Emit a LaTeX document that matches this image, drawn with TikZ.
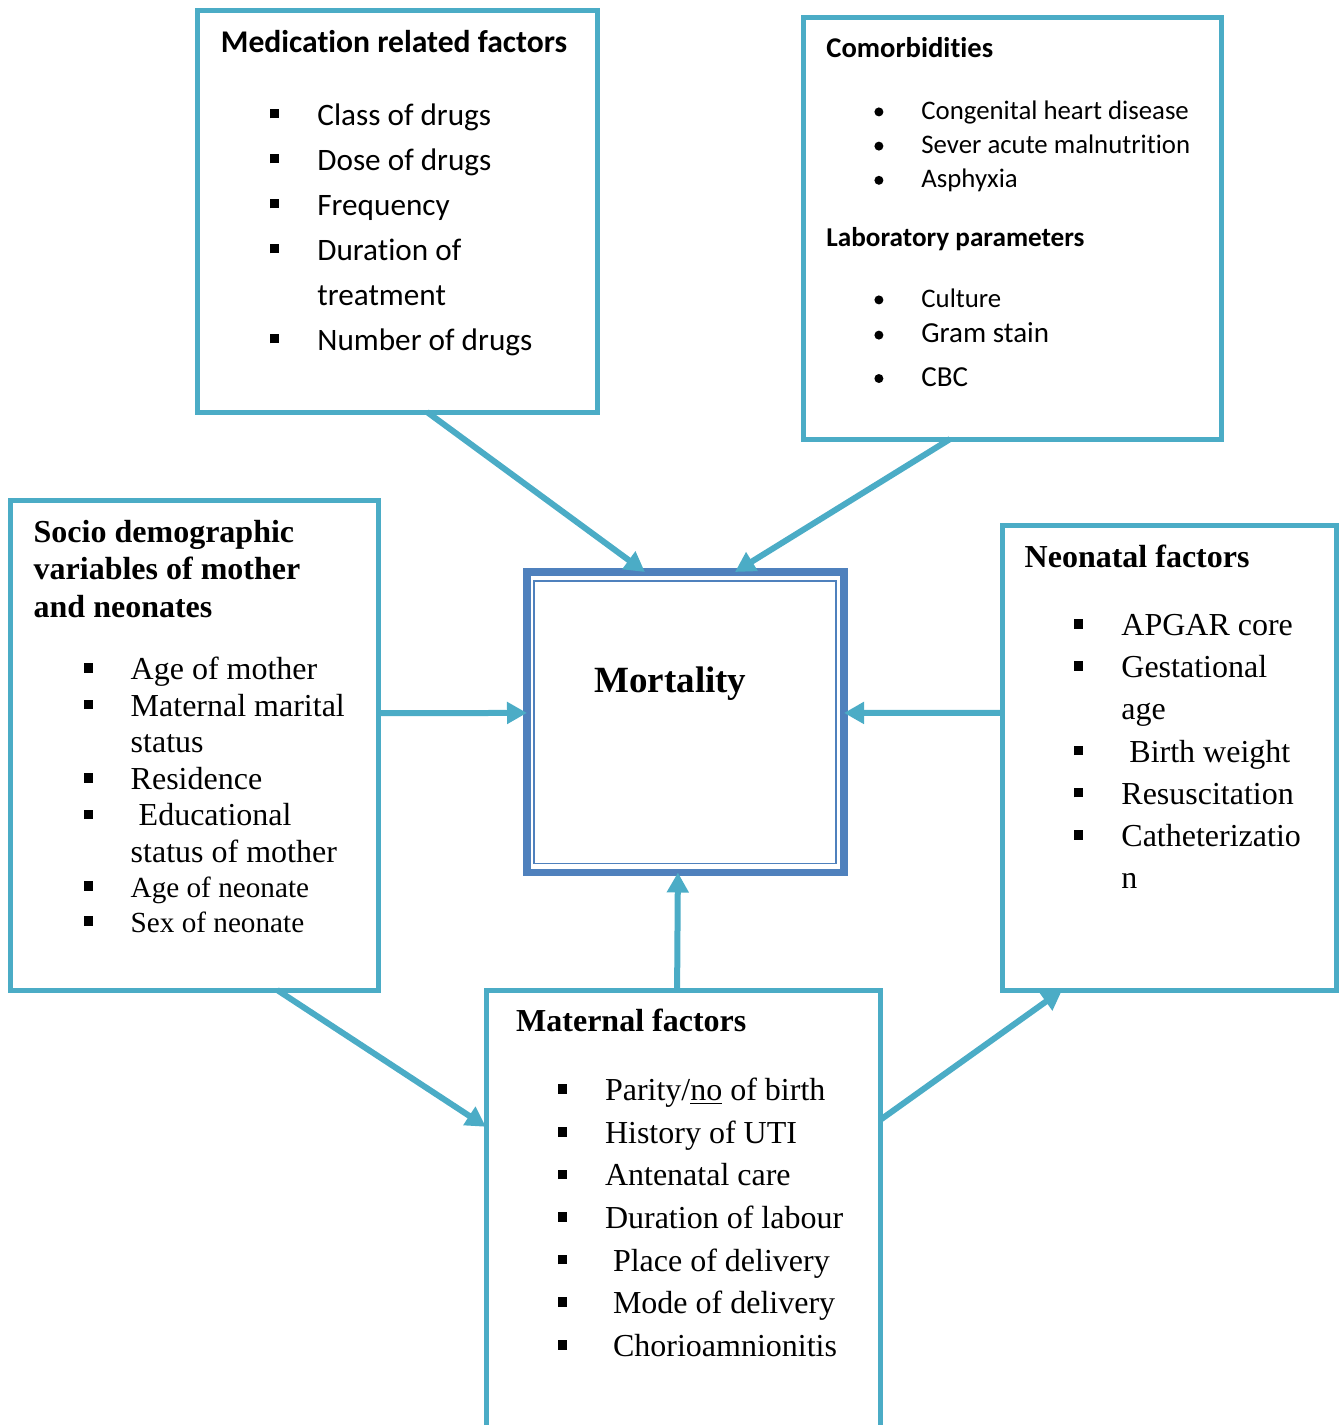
\documentclass[tikz,border=0pt]{standalone}
\usepackage{fontspec}
\newfontfamily\timesfont{Liberation Serif}
\newfontfamily\calibrifont[Ligatures=NoCommon]{Carlito}
\usepackage{tikz}
\usetikzlibrary{arrows.meta, positioning, calc, fit}

\definecolor{boxteal}{HTML}{4BACC6}
\definecolor{mortblue}{HTML}{4F81BD}

% list bullets
\newcommand{\sqbul}{\makebox[23.5pt][l]{\rule[3.4pt]{4.5pt}{4.8pt}}}
\newcommand{\rdbul}{\makebox[23.5pt][l]{\tikz[baseline=-3.8pt] \fill (2.25pt,0pt) circle (2.25pt);}}
\newcommand{\cont}{\hspace*{23.5pt}}
\newcommand{\smalltnr}[1]{{\fontsize{14.6}{18.33}\selectfont #1}}
\newcommand{\biglab}[1]{{\fontsize{14.5}{17.6}\selectfont #1}}

\begin{document}
\begin{tikzpicture}[x=0.5pt, y=-0.5pt,
  fbox/.style={draw=boxteal, line width=2.5pt, inner sep=0pt, outer sep=0pt},
  flow/.style={draw=boxteal, line width=3pt, -{Triangle[length=10pt,width=10.5pt]}},
  txt/.style={anchor=north west, inner sep=0pt, align=left}]
  \useasboundingbox (0,0) rectangle (1341,1425);
  % Factor boxes
  \node[fbox, fit={(197,10) (597,412)}] (med) {};
  \node[fbox, fit={(803,17) (1221,439)}] (comorb) {};
  \node[fbox, fit={(10,500) (378,990)}] (socio) {};
  \node[fbox, fit={(1002,525) (1336,990)}] (neo) {};
  \node[fbox, fit={(486,990) (880,1470)}] (mat) {};
  % Outcome box (thick-thin border)
  \node[draw=mortblue, line width=3.75pt, inner sep=0pt, outer sep=0pt,
    fit={(527,572) (844,872.5)}] (mort) {};
  \node[draw=mortblue, line width=0.85pt, inner sep=0pt, outer sep=0pt,
    fit={(534.2,580.8) (835.8,863.5)}] (mort-in) {};
  \node[anchor=base west, inner sep=0pt, font=\timesfont\bfseries\fontsize{18.5}{22}\selectfont]
    (mort-label) at (594,692) {Mortality};
  % Medication related factors
  \node[txt, font=\calibrifont\bfseries\fontsize{15.8}{19}\selectfont] (med-title) at (220.5,30.3)
    {Medication related factors};
  \node[txt, font=\calibrifont\fontsize{15.6}{22.5}\selectfont] (med-list) at (270,103)
    {\sqbul Class of drugs\\\sqbul Dose of drugs\\\sqbul Frequency\\\sqbul Duration of\\\cont treatment\\\sqbul Number of drugs};
  % Comorbidities and laboratory parameters
  \node[txt, font=\calibrifont\bfseries\fontsize{14.3}{17}\selectfont] (comorb-title) at (826,36.7)
    {Comorbidities};
  \node[txt, font=\calibrifont\fontsize{13.4}{17.1}\selectfont] (comorb-list) at (874,100.5)
    {\rdbul Congenital heart disease\\\rdbul Sever acute malnutrition\\\rdbul Asphyxia};
  \node[txt, font=\calibrifont\bfseries\fontsize{13.6}{17}\selectfont] (lab-title) at (826,227)
    {Laboratory parameters};
  \node[txt, font=\calibrifont\fontsize{13.4}{17.6}\selectfont] (lab-list) at (874,288.5)
    {\rdbul Culture\\\rdbul\biglab{Gram stain}\\[4.1pt]\rdbul\biglab{CBC}};
  % Socio demographic variables
  \node[txt, font=\timesfont\bfseries\fontsize{16}{18.65}\selectfont] (socio-title) at (33.3,520)
    {Socio demographic\\variables of mother\\and neonates};
  \node[txt, font=\timesfont\fontsize{16}{18.33}\selectfont] (socio-list) at (83.3,656.4)
    {\sqbul Age of mother\\\sqbul Maternal marital\\\cont status\\\sqbul Residence\\\sqbul\ Educational\\\cont status of mother\\[-0.85pt]\sqbul\smalltnr{Age of neonate}\\[-0.85pt]\sqbul\smalltnr{Sex of neonate}};
  % Neonatal factors
  \node[txt, font=\timesfont\bfseries\fontsize{16}{19}\selectfont] (neo-title) at (1024.3,544.5)
    {Neonatal factors};
  \node[txt, font=\timesfont\fontsize{16}{21.1}\selectfont] (neo-list) at (1074,613.8)
    {\sqbul APGAR core\\\sqbul Gestational\\\cont age\\\sqbul\ Birth weight\\\sqbul Resuscitation\\\sqbul Catheterizatio\\\cont n};
  % Maternal factors
  \node[txt, font=\timesfont\bfseries\fontsize{16}{19}\selectfont] (mat-title) at (515.8,1009)
    {Maternal factors};
  \node[txt, font=\timesfont\fontsize{16}{21.3}\selectfont] (mat-list) at (557.6,1077.8)
    {\sqbul Parity/\underline{no} of birth\\\sqbul History of UTI\\\sqbul Antenatal care\\\sqbul Duration of labour\\\sqbul\ Place of delivery\\\sqbul\ Mode of delivery\\\sqbul\ Chorioamnionitis};
  % Arrows into the outcome
  \draw[flow] ($(med.south west)!0.575!(med.south east)$) -- ($(mort.north west)!0.372!(mort.north east)$);
  \draw[flow] ($(comorb.south west)!0.352!(comorb.south east)$) -- ($(mort.north west)!0.656!(mort.north east)$);
  \draw[flow] ($(socio.north east)!0.435!(socio.south east)$) -- ($(mort.north west)!0.469!(mort.south west)$);
  \draw[flow] ($(neo.north west)!0.404!(neo.south west)$) -- ($(mort.north east)!0.469!(mort.south east)$);
  \draw[flow] ($(mat.north west)!0.485!(mat.north east)$) -- ($(mort.south west)!0.476!(mort.south east)$);
  % Arrows between factor boxes
  \draw[flow] ($(socio.south west)!0.726!(socio.south east)$) -- ($(mat.north west)!0.285!(mat.south west)$);
  \draw[flow] ($(mat.north east)!0.271!(mat.south east)$) -- ($(neo.south west)!0.18!(neo.south east)$);
\end{tikzpicture}
\end{document}
